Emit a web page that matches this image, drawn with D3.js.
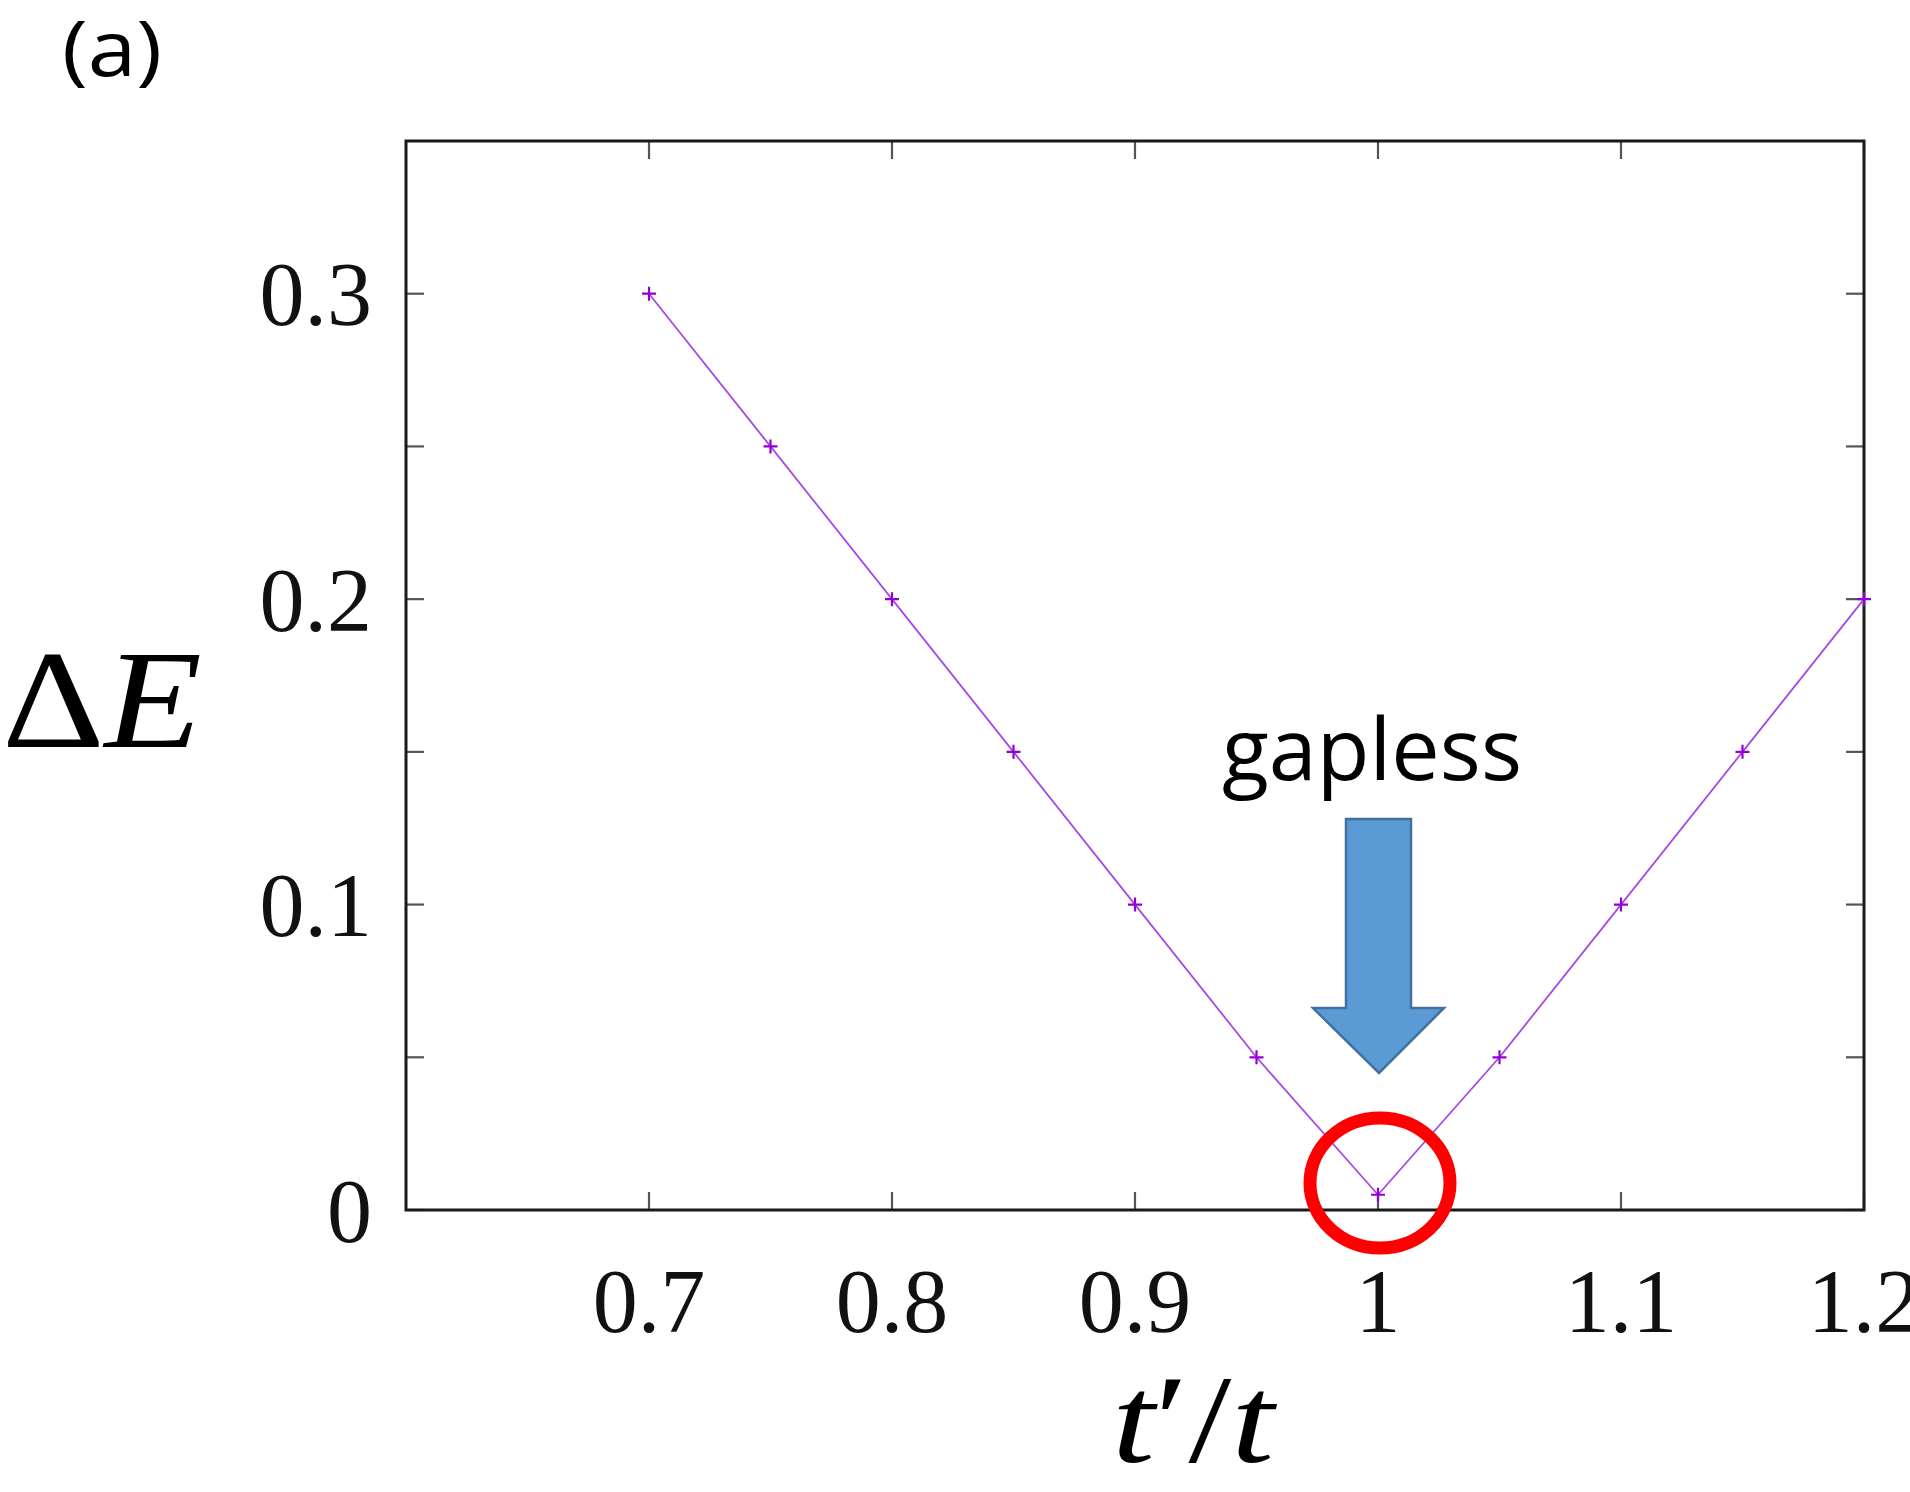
<!DOCTYPE html>
<html><head><meta charset="utf-8">
<script src="https://cdn.jsdelivr.net/npm/d3@7"></script>
<style>body{margin:0;background:#fff;}svg{display:block;}</style>
</head><body>
<script>
const tRatio = [0.7, 0.75, 0.8, 0.85, 0.9, 0.95, 1.0, 1.05, 1.1, 1.15, 1.2];
const gapE   = [0.30, 0.25, 0.20, 0.15, 0.10, 0.05, 0.005, 0.05, 0.10, 0.15, 0.20];
const xTicks = [0.7, 0.8, 0.9, 1.0, 1.1, 1.2];
const xTickLabels = ["0.7", "0.8", "0.9", "1", "1.1", "1.2"];
const yMajor = [0, 0.1, 0.2, 0.3];
const yTickLabels = ["0", "0.1", "0.2", "0.3"];
const yMinor = [0.05, 0.15, 0.25];

const W = 1910, H = 1492;
const L = 406, T = 141, R = 1864, B = 1210;
const svg = d3.select("body").append("svg").attr("width", W).attr("height", H);

const x = d3.scaleLinear().domain([0.6, 1.2]).range([L, R]);
const y = d3.scaleLinear().domain([0, 0.35]).range([B, T]);

const tickLen = 18, tickCol = "#555";
// ticks (inward, mirrored)
const allY = yMajor.concat(yMinor);
const tg = svg.append("g").attr("stroke", tickCol).attr("stroke-width", 2.2);
allY.forEach(v => {
  tg.append("line").attr("x1", L).attr("x2", L + tickLen).attr("y1", y(v)).attr("y2", y(v));
  tg.append("line").attr("x1", R).attr("x2", R - tickLen).attr("y1", y(v)).attr("y2", y(v));
});
xTicks.forEach(v => {
  tg.append("line").attr("x1", x(v)).attr("x2", x(v)).attr("y1", B).attr("y2", B - tickLen);
  tg.append("line").attr("x1", x(v)).attr("x2", x(v)).attr("y1", T).attr("y2", T + tickLen);
});

// frame
svg.append("rect").attr("x", L).attr("y", T).attr("width", R - L).attr("height", B - T)
  .attr("fill", "none").attr("stroke", "#1a1a1a").attr("stroke-width", 3);

// tick labels
const serif = "'Liberation Serif', 'DejaVu Serif', serif";
svg.append("g").selectAll("text").data(yMajor).join("text")
  .attr("x", 372).attr("y", d => y(d)).attr("dy", "0.35em")
  .attr("text-anchor", "end").attr("font-family", serif).attr("font-size", 90)
  .attr("fill", "#111").text((d, i) => yTickLabels[i]);
svg.append("g").selectAll("text").data(xTicks).join("text")
  .attr("x", d => x(d)).attr("y", 1332)
  .attr("text-anchor", "middle").attr("font-family", serif).attr("font-size", 90)
  .attr("fill", "#111").text((d, i) => xTickLabels[i]);

// axis titles
const yt = svg.append("text").attr("x", 2).attr("y", 747).attr("font-family", serif)
  .attr("font-size", 140).attr("fill", "#000")
  .attr("textLength", 200).attr("lengthAdjust", "spacingAndGlyphs");
yt.append("tspan").text("Δ");
yt.append("tspan").attr("font-style", "italic").text("E");

const xt = svg.append("text").attr("x", 1112).attr("y", 1462).attr("font-family", serif)
  .attr("font-size", 125).attr("font-style", "italic").attr("fill", "#000")
  .attr("textLength", 162).attr("lengthAdjust", "spacingAndGlyphs");
xt.append("tspan").text("t");
xt.append("tspan").attr("font-style", "normal").text("′");
xt.append("tspan").attr("font-style", "normal").text("/");
xt.append("tspan").text("t");

// data line
const pts = tRatio.map((d, i) => [d, gapE[i]]);
svg.append("path").datum(pts)
  .attr("d", d3.line().x(d => x(d[0])).y(d => y(d[1])))
  .attr("fill", "none").attr("stroke", "#a64ae6").attr("stroke-width", 1.8);
const ms = 7;
svg.append("g").selectAll("path").data(pts).join("path")
  .attr("d", d => `M${x(d[0]) - ms},${y(d[1])}H${x(d[0]) + ms}M${x(d[0])},${y(d[1]) - ms}V${y(d[1]) + ms}`)
  .attr("stroke", "#9400D3").attr("stroke-width", 2.2).attr("fill", "none");

// "(a)"
svg.append("text").attr("x", 62).attr("y", 76).attr("font-family", "'Open Sans', sans-serif")
  .attr("font-size", 76).attr("fill", "#000")
  .attr("textLength", 100).attr("lengthAdjust", "spacingAndGlyphs").text("(a)");

// gapless annotation
const cx = x(1.0);
svg.append("text").attr("x", 1222).attr("y", 780).attr("font-family", "'Open Sans', sans-serif")
  .attr("font-size", 86).attr("fill", "#000")
  .attr("textLength", 300).attr("lengthAdjust", "spacingAndGlyphs").text("gapless");

svg.append("path")
  .attr("d", `M${cx - 32},819 H${cx + 33} V1008 H${cx + 66} L${cx + 1},1073 L${cx - 65},1008 H${cx - 32} Z`)
  .attr("fill", "#5B9BD5").attr("stroke", "#41719C").attr("stroke-width", 2.5);

// red circle
svg.append("ellipse").attr("cx", cx + 2).attr("cy", 1183).attr("rx", 70).attr("ry", 65)
  .attr("fill", "none").attr("stroke", "#FF0000").attr("stroke-width", 13);
</script>
</body></html>
